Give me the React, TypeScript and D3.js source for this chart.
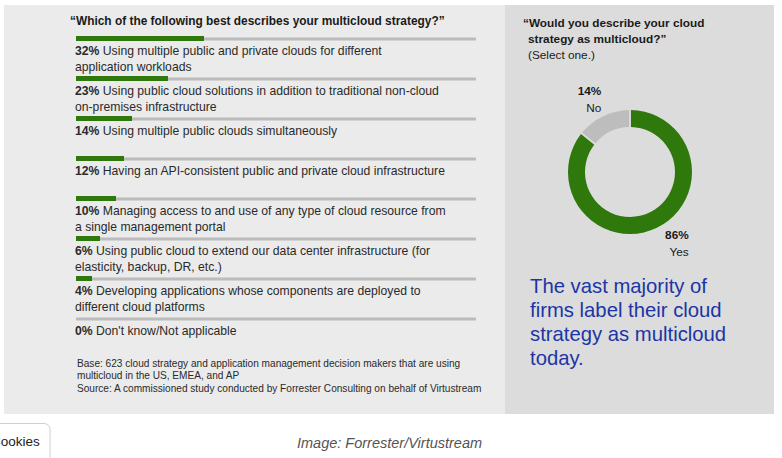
import React, {useEffect, useRef} from 'react';
import * as d3 from 'd3';

// Left panel: "Which of the following best describes your multicloud strategy?"
const strategyValues = [32, 23, 14, 12, 10, 6, 4, 0];
const strategyLabels = [
  ['Using multiple public and private clouds for different', 'application workloads'],
  ['Using public cloud solutions in addition to traditional non-cloud', 'on-premises infrastructure'],
  ['Using multiple public clouds simultaneously'],
  ['Having an API-consistent public and private cloud infrastructure'],
  ['Managing access to and use of any type of cloud resource from', 'a single management portal'],
  ['Using public cloud to extend our data center infrastructure (for', 'elasticity, backup, DR, etc.)'],
  ['Developing applications whose components are deployed to', 'different cloud platforms'],
  ["Don't know/Not applicable"],
];

// Right panel donut
const donutCategories = ['Yes', 'No'];
const donutValues = [86, 14];

const footnotes = [
  'Base: 623 cloud strategy and application management decision makers that are using',
  'multicloud in the US, EMEA, and AP',
  'Source: A commissioned study conducted by Forrester Consulting on behalf of Virtustream',
];
const summaryLines = ['The vast majority of', 'firms label their cloud', 'strategy as multicloud', 'today.'];

const GREEN = '#2e780c';
const TRACK = '#bcbcbc';
const FONT = '"Liberation Sans", Arial, Helvetica, sans-serif';

export default function App() {
  const ref = useRef<SVGSVGElement>(null);

  useEffect(() => {
    const svg = d3.select(ref.current);
    svg.selectAll('*').remove();
    svg.style('font-family', FONT);

    // panels
    svg.append('rect').attr('x', 4).attr('y', 5).attr('width', 501).attr('height', 409).attr('fill', '#ebebeb');
    svg.append('rect').attr('x', 505).attr('y', 5).attr('width', 269).attr('height', 409).attr('fill', '#dcdcdc');

    // left title
    svg.append('text')
        .attr('x', 70).attr('y', 25)
        .style('font-size', '11.9px').style('font-weight', 'bold').attr('fill', '#1a1a1a')
        .text('\u201CWhich of the following best describes your multicloud strategy?\u201D');

    const idx = strategyValues.map((_, i) => String(i));
    const x = d3.scaleLinear().domain([0, 100]).range([76, 476]);
    const y = d3.scalePoint().domain(idx).range([38.5, 318.5]);

    const rows = svg.append('g').selectAll('g.row')
        .data(strategyValues)
        .enter().append('g').attr('class', 'row');

    rows.append('rect')
        .attr('x', x(0))
        .attr('y', (d, i) => y(String(i))! - 1)
        .attr('width', x(100) - x(0))
        .attr('height', 3)
        .attr('fill', TRACK);

    rows.append('rect')
        .attr('x', x(0))
        .attr('y', (d, i) => y(String(i))! - 2.5)
        .attr('width', d => x(d) - x(0))
        .attr('height', 5)
        .attr('fill', GREEN);

    rows.each(function (d, i) {
      const g = d3.select(this);
      strategyLabels[i].forEach((line, j) => {
        const t = g.append('text')
            .attr('x', 75)
            .attr('y', y(String(i))! + 16 + j * 16.5)
            .style('font-size', '12.2px')
            .attr('fill', '#2a2a2a');
        if (j === 0) {
          t.append('tspan').style('font-weight', 'bold').text(`${d}%`);
          t.append('tspan').text(' ' + line);
        } else {
          t.text(line);
        }
      });
    });

    // footnotes
    const footY = [366.5, 379, 392];
    footnotes.forEach((f, i) => {
      svg.append('text')
          .attr('x', 77).attr('y', footY[i])
          .style('font-size', '10.1px').attr('fill', '#2a2a2a')
          .text(f);
    });

    // right title
    const rt = svg.append('text').style('font-size', '11.8px').attr('fill', '#1a1a1a');
    rt.append('tspan').attr('x', 523).attr('y', 27).style('font-weight', 'bold').text('\u201CWould you describe your cloud');
    rt.append('tspan').attr('x', 528).attr('y', 43).style('font-weight', 'bold').text('strategy as multicloud?\u201D');
    rt.append('tspan').attr('x', 528).attr('y', 59).text('(Select one.)');

    // donut
    const cx = 630, cy = 172;
    const pie = d3.pie<number>().sort(null).value(d => d).padAngle(0.025);
    const arcs = pie(donutValues);
    const arc = d3.arc<d3.PieArcDatum<number>>().innerRadius(45).outerRadius(62);
    const dg = svg.append('g').attr('transform', `translate(${cx},${cy})`);
    dg.selectAll('path')
        .data(arcs)
        .enter().append('path')
        .attr('d', arc)
        .attr('fill', (d, i) => (i === 0 ? GREEN : '#bdbdbd'));

    const labelArc = d3.arc<d3.PieArcDatum<number>>().innerRadius(80).outerRadius(80);
    arcs.forEach((a, i) => {
      const [lx, ly] = labelArc.centroid(a);
      const ax = i === 0 ? lx + 24 : lx + 6;
      const ay = i === 0 ? ly - 5 : ly - 5;
      const t = dg.append('text').attr('text-anchor', 'end').style('font-size', '11.8px').attr('fill', '#1a1a1a');
      t.append('tspan').attr('x', ax).attr('y', ay).style('font-weight', 'bold').text(`${donutValues[i]}%`);
      t.append('tspan').attr('x', ax).attr('y', ay + 17).text(donutCategories[i]);
    });

    // summary
    summaryLines.forEach((s, i) => {
      svg.append('text')
          .attr('x', 530).attr('y', 293 + i * 24)
          .style('font-size', '20.3px').attr('fill', '#1b35a6')
          .text(s);
    });

    // bottom page chrome
    svg.append('rect')
        .attr('x', -20).attr('y', 423.5).attr('width', 70).attr('height', 40).attr('rx', 6)
        .attr('fill', '#fff').attr('stroke', '#cfcfcf');
    svg.append('text')
        .attr('x', -9).attr('y', 446)
        .style('font-size', '13.5px').attr('fill', '#222')
        .text('Cookies');
    svg.append('text')
        .attr('x', 297).attr('y', 448)
        .style('font-size', '14.5px').style('font-style', 'italic').attr('fill', '#555')
        .text('Image: Forrester/Virtustream');
  }, []);

  return (
    <svg ref={ref} width={782} height={458}
         style={{position: 'absolute', left: 0, top: 0, background: '#fff'}}/>
  );
}
